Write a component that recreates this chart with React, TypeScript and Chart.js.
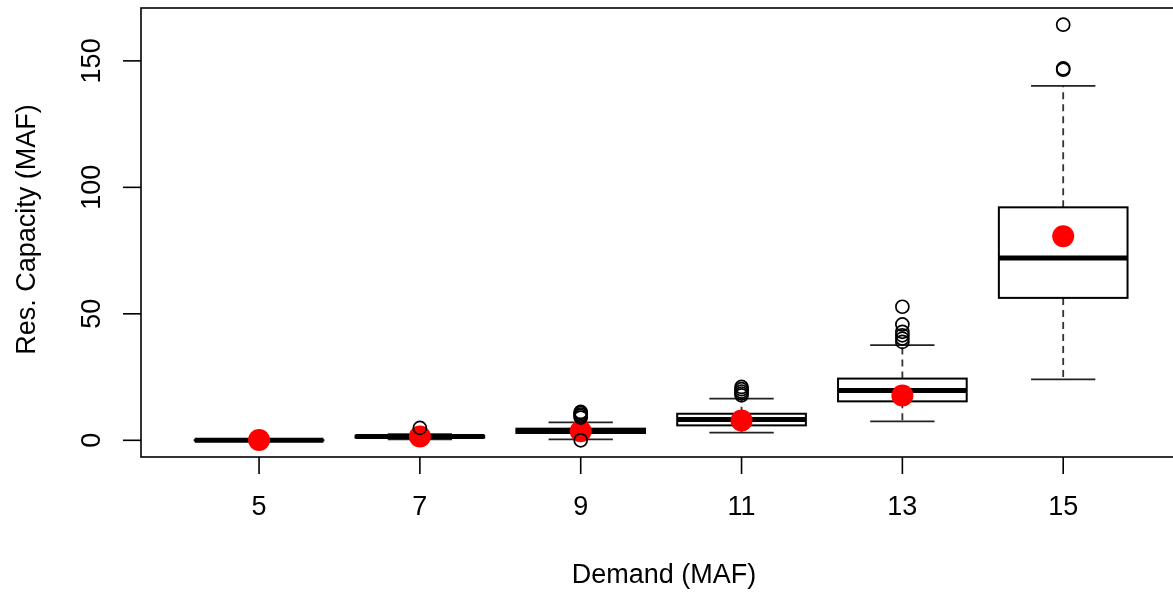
import React, { useEffect, useRef } from 'react';
import { Chart, registerables } from 'chart.js';
Chart.register(...registerables);

const categories = ['5', '7', '9', '11', '13', '15'];
const lowerWhisker = [0, 0.4, 0.4, 3.0, 7.5, 24.1];
const q1 = [0, 1.1, 2.9, 5.9, 15.4, 56.3];
const median = [0, 1.5, 3.8, 8.2, 19.7, 72.1];
const q3 = [0.05, 1.8, 4.6, 10.5, 24.4, 92.1];
const upperWhisker = [0.1, 2.4, 7.1, 16.5, 37.6, 140.1];
const means = [0.1, 1.5, 3.6, 7.8, 17.7, 80.7];
const outliers: number[][] = [
  [],
  [4.9],
  [0, 9.0, 9.6, 10.2, 10.8, 11.2],
  [17.8, 18.5, 19.3, 20.2, 21.1],
  [38.9, 40.2, 41.5, 42.9, 45.8, 52.8],
  [146.5, 147.0, 164.3],
];
const yTicks = [0, 50, 100, 150];
const xTitle = 'Demand (MAF)';
const yTitle = 'Res. Capacity (MAF)';

const FONT = '27px "Liberation Sans", Arial, sans-serif';

const rBoxPlugin = {
  id: 'rBox',
  beforeDatasetsDraw(chart: any) {
    const { ctx, scales } = chart;
    const xs = scales.x;
    const ys = scales.y;
    ctx.save();
    const unit = xs.getPixelForValue(1) - xs.getPixelForValue(0);
    categories.forEach((_, i) => {
      const xc = xs.getPixelForValue(i + 1);
      const bw = unit * 0.4;
      const cw = unit * 0.2;
      const yq1 = ys.getPixelForValue(q1[i]);
      const yq3 = ys.getPixelForValue(q3[i]);
      const ylo = ys.getPixelForValue(lowerWhisker[i]);
      const yhi = ys.getPixelForValue(upperWhisker[i]);
      const ymed = ys.getPixelForValue(median[i]);
      ctx.strokeStyle = '#333';
      ctx.lineWidth = 1.8;
      ctx.setLineDash([7, 5]);
      ctx.beginPath();
      ctx.moveTo(xc, yq3);
      ctx.lineTo(xc, yhi);
      ctx.moveTo(xc, yq1);
      ctx.lineTo(xc, ylo);
      ctx.stroke();
      ctx.setLineDash([]);
      ctx.strokeStyle = '#222';
      ctx.beginPath();
      ctx.moveTo(xc - cw, yhi);
      ctx.lineTo(xc + cw, yhi);
      ctx.moveTo(xc - cw, ylo);
      ctx.lineTo(xc + cw, ylo);
      ctx.stroke();
      ctx.fillStyle = '#fff';
      ctx.fillRect(xc - bw, yq3, 2 * bw, yq1 - yq3);
      ctx.strokeStyle = '#000';
      ctx.lineWidth = 2;
      ctx.strokeRect(xc - bw, yq3, 2 * bw, yq1 - yq3);
      ctx.lineWidth = 5;
      ctx.beginPath();
      ctx.moveTo(xc - bw, ymed);
      ctx.lineTo(xc + bw, ymed);
      ctx.stroke();
    });
    ctx.restore();
  },
  afterDraw(chart: any) {
    const { ctx, chartArea, scales } = chart;
    const xs = scales.x;
    const ys = scales.y;
    ctx.save();
    ctx.strokeStyle = '#000';
    ctx.lineWidth = 1.6;
    ctx.strokeRect(chartArea.left, chartArea.top, chartArea.right - chartArea.left, chartArea.bottom - chartArea.top);
    ctx.fillStyle = '#000';
    ctx.font = FONT;
    yTicks.forEach((v) => {
      const y = ys.getPixelForValue(v);
      ctx.beginPath();
      ctx.moveTo(chartArea.left - 18, y);
      ctx.lineTo(chartArea.left, y);
      ctx.stroke();
      ctx.save();
      ctx.translate(chartArea.left - 48, y);
      ctx.rotate(-Math.PI / 2);
      ctx.textAlign = 'center';
      ctx.textBaseline = 'middle';
      ctx.fillText(String(v), 0, 0);
      ctx.restore();
    });
    categories.forEach((c, i) => {
      const x = xs.getPixelForValue(i + 1);
      ctx.beginPath();
      ctx.moveTo(x, chartArea.bottom);
      ctx.lineTo(x, chartArea.bottom + 17);
      ctx.stroke();
      ctx.textAlign = 'center';
      ctx.textBaseline = 'middle';
      ctx.fillText(c, x, chartArea.bottom + 51);
    });
    ctx.textAlign = 'center';
    ctx.textBaseline = 'middle';
    ctx.fillText(xTitle, (chartArea.left + chartArea.right) / 2 + 4, chartArea.bottom + 119);
    ctx.save();
    ctx.translate(chartArea.left - 113, (chartArea.top + chartArea.bottom) / 2 - 3);
    ctx.rotate(-Math.PI / 2);
    ctx.fillText(yTitle, 0, 0);
    ctx.restore();
    ctx.restore();
  },
  beforeDraw(chart: any) {
    const { ctx, width, height } = chart;
    ctx.save();
    ctx.fillStyle = '#fff';
    ctx.fillRect(0, 0, width, height);
    ctx.restore();
  },
};

export default function App() {
  const ref = useRef<HTMLCanvasElement | null>(null);
  useEffect(() => {
    if (!ref.current) return;
    const outlierData = outliers.flatMap((arr, i) => arr.map((v) => ({ x: i + 1, y: v })));
    const meanData = means.map((v, i) => ({ x: i + 1, y: v }));
    const chart = new Chart(ref.current, {
      type: 'scatter',
      data: {
        datasets: [
          {
            label: 'outliers',
            data: outlierData,
            pointRadius: 6.5,
            pointBorderWidth: 1.7,
            pointBorderColor: '#000',
            pointBackgroundColor: 'rgba(0,0,0,0)',
          },
          {
            label: 'mean',
            data: meanData,
            pointRadius: 11,
            pointBorderWidth: 0,
            pointBackgroundColor: '#ff0000',
            pointBorderColor: '#ff0000',
          },
        ],
      },
      options: {
        responsive: false,
        animation: false,
        events: [],
        layout: { autoPadding: false, padding: { left: 141, top: 8, right: 11, bottom: 136 } },
        plugins: { legend: { display: false }, tooltip: { enabled: false } },
        scales: {
          x: { type: 'linear', min: 0.266, max: 6.72, display: false },
          y: { type: 'linear', min: -6.6, max: 170.9, display: false },
        },
      },
      plugins: [rBoxPlugin],
    });
    return () => chart.destroy();
  }, []);
  return (
    <div style={{ position: 'fixed', left: 0, top: 0, width: 1190, height: 593 }}>
      <canvas ref={ref} width={1190} height={593} />
    </div>
  );
}
